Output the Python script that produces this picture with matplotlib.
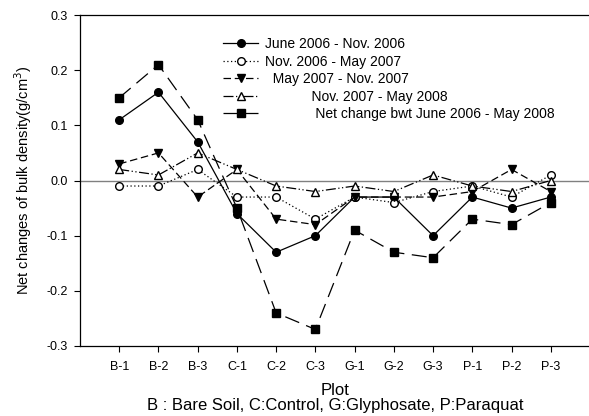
import matplotlib
matplotlib.use("Agg")
import matplotlib.pyplot as plt
import numpy as np

plt.rcParams['font.family'] = ['Liberation Sans', 'DejaVu Sans']

plots = ['B-1', 'B-2', 'B-3', 'C-1', 'C-2', 'C-3', 'G-1', 'G-2', 'G-3', 'P-1', 'P-2', 'P-3']

jun06_nov06 = [0.11, 0.16, 0.07, -0.06, -0.13, -0.10, -0.03, -0.03, -0.10, -0.03, -0.05, -0.03]
nov06_may07 = [-0.01, -0.01, 0.02, -0.03, -0.03, -0.07, -0.03, -0.04, -0.02, -0.01, -0.03, 0.01]
may07_nov07 = [0.03, 0.05, -0.03, 0.02, -0.07, -0.08, -0.03, -0.03, -0.03, -0.02, 0.02, -0.02]
nov07_may08 = [0.02, 0.01, 0.05, 0.02, -0.01, -0.02, -0.01, -0.02, 0.01, -0.01, -0.02, 0.00]
net_change = [0.15, 0.21, 0.11, -0.05, -0.24, -0.27, -0.09, -0.13, -0.14, -0.07, -0.08, -0.04]

x = np.arange(1, len(plots) + 1)

fig = plt.figure(figsize=(5.89, 4.16), dpi=100)
ax = fig.add_axes([80/589, 70/416, 510/589, 331/416])

ax.axhline(0, color='#808080', lw=1.0, zorder=1)

ms = 5.5
ax.plot(x, jun06_nov06, color='k', lw=0.9, ls='-', marker='o', ms=ms,
        mfc='k', mec='k', label='June 2006 - Nov. 2006')
ax.plot(x, nov06_may07, color='k', lw=0.9, ls=(0, (1, 2)), marker='o', ms=ms,
        mfc='white', mec='k', label='Nov. 2006 - May 2007')
ax.plot(x, may07_nov07, color='k', lw=0.9, ls=(0, (6, 3)), marker='v', ms=ms,
        mfc='k', mec='k', label='  May 2007 - Nov. 2007')
ax.plot(x, nov07_may08, color='k', lw=0.9, ls=(0, (8, 2, 1, 2, 1, 2)), marker='^', ms=ms,
        mfc='white', mec='k', label='            Nov. 2007 - May 2008')
ax.plot(x, net_change, color='k', lw=0.9, ls=(0, (12, 6)), marker='s', ms=ms,
        mfc='k', mec='k', label='             Net change bwt June 2006 - May 2008')

ax.set_xlim(0, 13)
ax.set_ylim(-0.3, 0.3)
ax.set_xticks(x)
ax.set_xticklabels(plots)
ax.set_yticks(np.arange(-0.3, 0.31, 0.1))
ax.set_yticklabels(['-0.3', '-0.2', '-0.1', '0.0', '0.1', '0.2', '0.3'])
ax.tick_params(labelsize=9, direction='out', length=4, width=0.8, pad=5)
ax.tick_params(axis='x', pad=7)

ax.spines['right'].set_visible(False)
for s in ['left', 'bottom', 'top']:
    ax.spines[s].set_linewidth(0.9)

ax.set_ylabel('Net changes of bulk density(g/cm$^3$)', fontsize=10.5, labelpad=9)
ax.set_xlabel('Plot\nB : Bare Soil, C:Control, G:Glyphosate, P:Paraquat',
              fontsize=12, labelpad=7, linespacing=1.0)

ax.legend(loc='upper left', bbox_to_anchor=(0.27, 0.95), frameon=False,
          fontsize=10, handlelength=2.5, labelspacing=0.25, handletextpad=0.5,
          borderaxespad=0)

fig.savefig('out.png', dpi=100)
